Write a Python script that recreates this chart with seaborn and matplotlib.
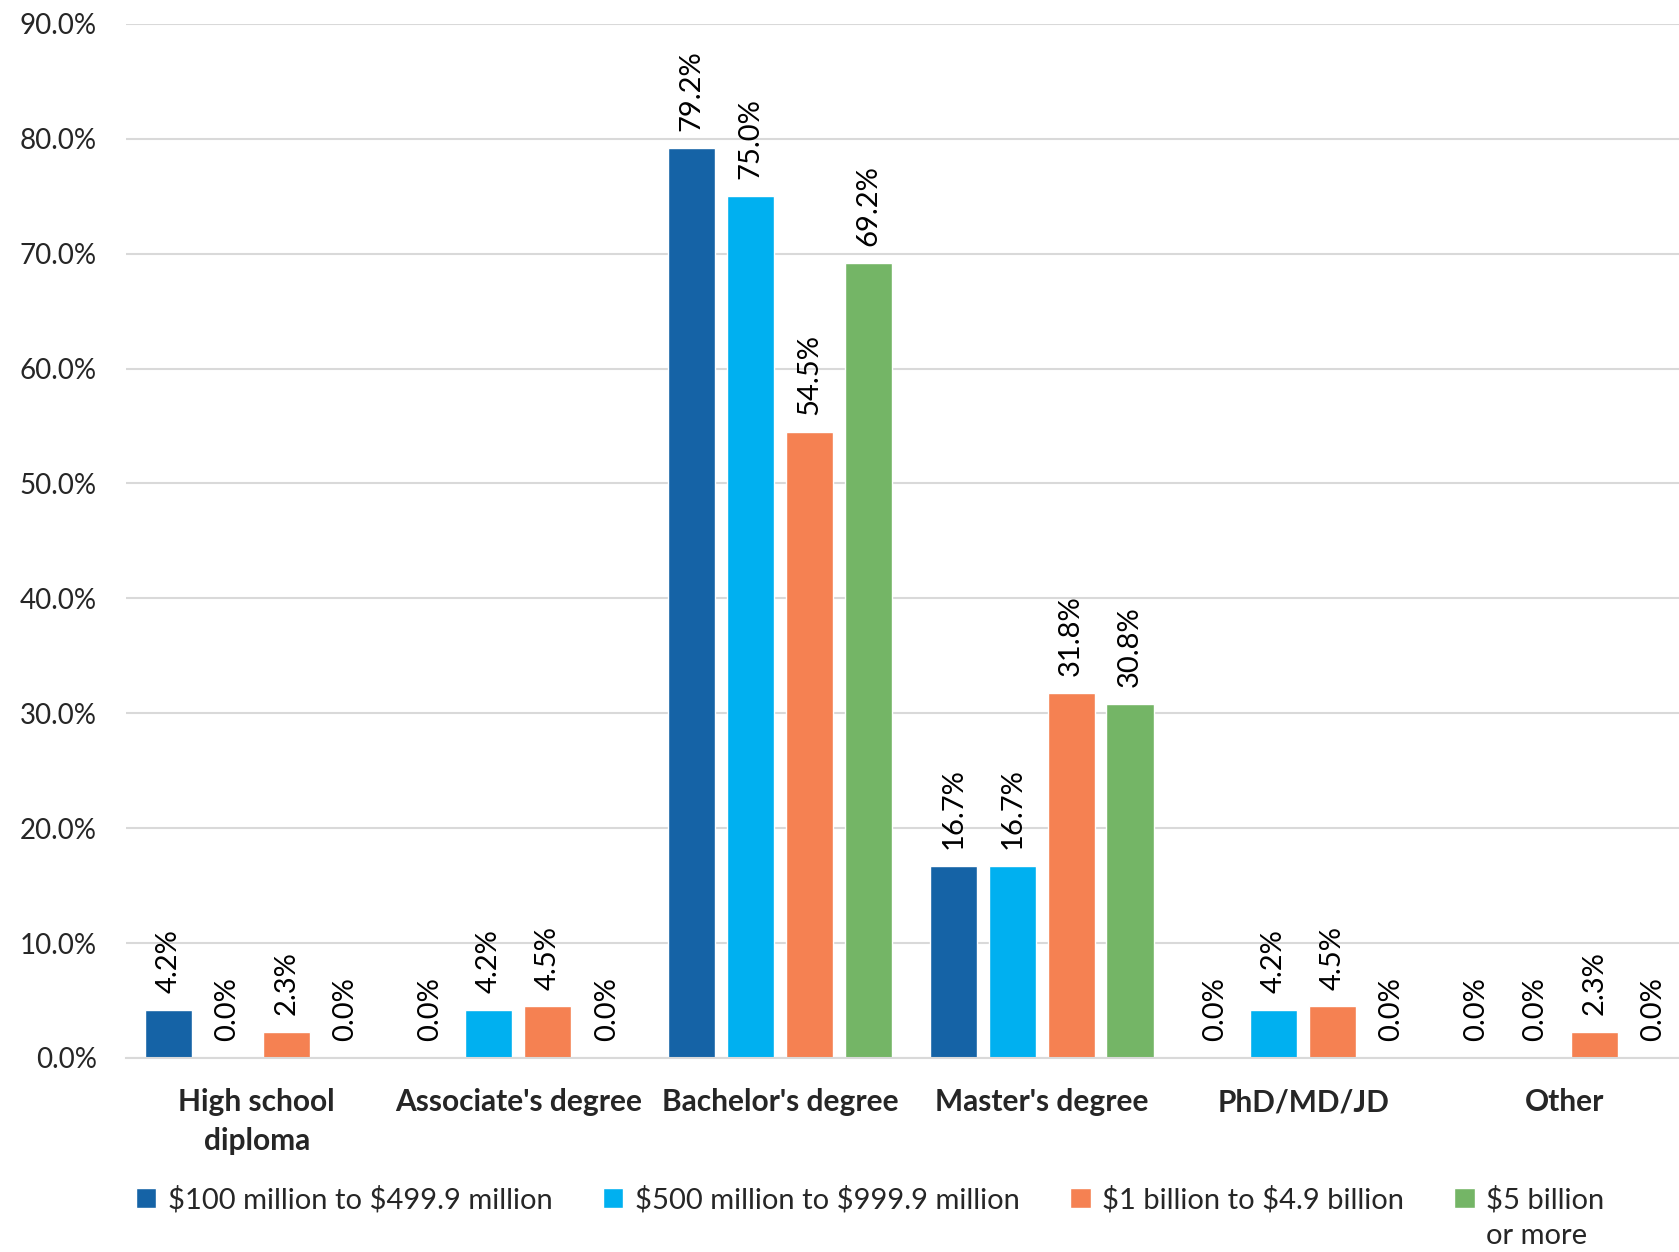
import numpy as np
import pandas as pd
import matplotlib
matplotlib.use('Agg')
import matplotlib.pyplot as plt
import seaborn as sns
from matplotlib.patches import Patch

# Chart data
categories = ['High school\ndiploma', "Associate's degree", "Bachelor's degree",
              "Master's degree", 'PhD/MD/JD', 'Other']
series = ['\\$100 million to \\$499.9 million', '\\$500 million to \\$999.9 million',
          '\\$1 billion to \\$4.9 billion', '\\$5 billion']
last_line = 'or more'
rev_100m = [4.2, 0.0, 79.2, 16.7, 0.0, 0.0]
rev_500m = [0.0, 4.2, 75.0, 16.7, 4.2, 0.0]
rev_1b = [2.3, 4.5, 54.5, 31.8, 4.5, 2.3]
rev_5b = [0.0, 0.0, 69.2, 30.8, 0.0, 0.0]
colors = ['#1563A6', '#00B0F0', '#F58152', '#74B566']
y_ticks = [0, 10, 20, 30, 40, 50, 60, 70, 80, 90]

rows = []
for s, vals in zip(series, [rev_100m, rev_500m, rev_1b, rev_5b]):
	for c, v in zip(categories, vals):
		rows.append({'Education': c, 'Revenue': s, 'Share': v})
df = pd.DataFrame(rows)

sns.set_theme(style='white')
plt.rcParams['font.family'] = ['Lato', 'DejaVu Sans']

fig = plt.figure(figsize=(16.79, 12.52), dpi=100)
ax = fig.add_axes([0.075, 0.155, 0.925, 0.826])

sns.barplot(data=df, x='Education', y='Share', hue='Revenue', order=categories,
            hue_order=series, palette=colors, width=0.9, gap=0.2, ax=ax,
            legend=False, saturation=1)

for cont in ax.containers:
	ax.bar_label(cont, labels=[f'{v:.1f}%' for v in cont.datavalues], rotation=90,
	             padding=12, fontsize=21, color='black')

ax.set_ylim(0, 90)
ax.set_xlim(-0.5, 5.436)
ax.set_yticks(y_ticks)
ax.set_yticklabels([f'{t:.1f}%' for t in y_ticks], fontsize=20)
ax.tick_params(axis='y', length=0, pad=21)
ax.tick_params(axis='x', length=0, pad=22)
ax.set_xticks(range(len(categories)))
ax.set_xticklabels(categories, fontsize=21.5, fontweight='bold', linespacing=1.45)
ax.grid(axis='y', color='#D9D9D9', linewidth=1.5)
ax.set_axisbelow(True)
for sp in ['top', 'right', 'left']:
	ax.spines[sp].set_visible(False)
ax.spines['bottom'].set_color('#D9D9D9')
ax.spines['bottom'].set_linewidth(1.5)
ax.set_xlabel('')
ax.set_ylabel('')

handles = [Patch(facecolor=c, label=s) for c, s in zip(colors, series)]
leg = fig.legend(handles=handles, loc='upper left', bbox_to_anchor=(0.081, 0.053), ncol=4,
                 frameon=False, fontsize=21, handlelength=0.7, handleheight=0.7,
                 handletextpad=0.4, columnspacing=1.72, borderaxespad=0, borderpad=0)

# second line of the last legend entry
fig.canvas.draw()
bb = leg.get_texts()[3].get_window_extent()
inv = fig.transFigure.inverted()
x0, y0 = inv.transform((bb.x0, bb.y0))
fig.text(x0, y0 - 0.008, last_line, fontsize=21, va='top', ha='left')

fig.savefig('out.png', dpi=100)
